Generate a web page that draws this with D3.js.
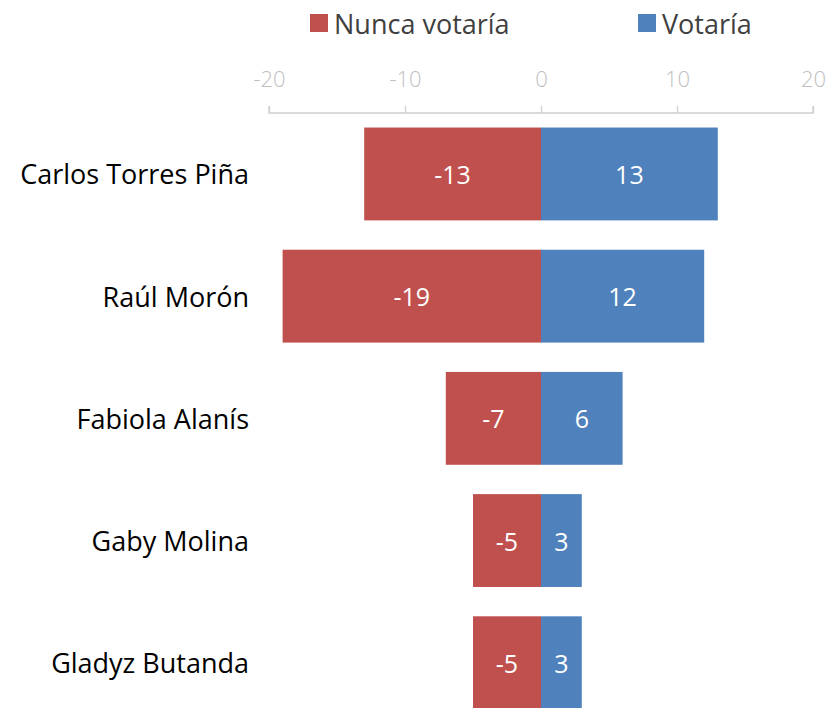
<!DOCTYPE html>
<html><head><meta charset="utf-8">
<script src="https://cdn.jsdelivr.net/npm/d3@7"></script>
<style>body{margin:0;background:#fff}svg{display:block}text{font-family:"Open Sans","Noto Sans",sans-serif}</style>
</head><body><svg id="c" width="832" height="708"></svg>
<script>
const categories = ["Carlos Torres Piña","Raúl Morón","Fabiola Alanís","Gaby Molina","Gladyz Butanda"];
const nunca = [-13,-19,-7,-5,-5];
const votaria = [13,12,6,3,3];
const ticks = [-20,-10,0,10,20];
const seriesNames = ["Nunca votaría","Votaría"];
const colors = ["#C0504D","#4F81BD"];

const svg = d3.select("#c");
const x = d3.scaleLinear().domain([-20,20]).range([269,813]);
const y = d3.scaleBand().domain(categories).range([98.2,738.5]).padding(0.24);

// axis
const axisY = 113;
const ax = svg.append("g").attr("transform",`translate(0,${axisY})`)
  .call(d3.axisTop(x).tickValues(ticks).tickSize(7).tickPadding(19).tickFormat(d=>String(d)));
ax.select(".domain").attr("stroke","#d0d0d0").attr("stroke-width",1.3).attr("d",`M${x(-20)},-7V0H${x(20)}V-7`);
ax.selectAll(".tick line").attr("stroke","#d0d0d0").attr("stroke-width",1.3);
ax.selectAll(".tick text").attr("fill","#bfbfbf").attr("font-size",22).attr("dy",0).attr("dominant-baseline","central").attr("y",-35)
  .style("font-family",'"Open Sans","Noto Sans",sans-serif').style("font-weight",300);

// bars
const g = svg.append("g");
categories.forEach((c,i)=>{
  [nunca[i],votaria[i]].forEach((v,j)=>{
    g.append("rect").attr("x",x(Math.min(0,v))).attr("width",Math.abs(x(v)-x(0)))
      .attr("y",y(c)).attr("height",y.bandwidth()).attr("fill",colors[j]);
    g.append("text").attr("x",(x(v)+x(0))/2).attr("y",y(c)+y.bandwidth()/2)
      .attr("text-anchor","middle").attr("dominant-baseline","central")
      .attr("fill","#fff").attr("font-size",25).text(String(v));
  });
  svg.append("text").attr("x",249).attr("y",y(c)+y.bandwidth()/2)
    .attr("text-anchor","end").attr("dominant-baseline","central")
    .attr("fill","#000").attr("font-size",27).text(c);
});

// legend
const legX = [310,638];
seriesNames.forEach((n,i)=>{
  svg.append("rect").attr("x",legX[i]).attr("y",14).attr("width",18).attr("height",18).attr("fill",colors[i]);
  svg.append("text").attr("x",legX[i]+24).attr("y",23).attr("dominant-baseline","central")
    .attr("fill","#404040").attr("font-size",27).text(n);
});
</script></body></html>
